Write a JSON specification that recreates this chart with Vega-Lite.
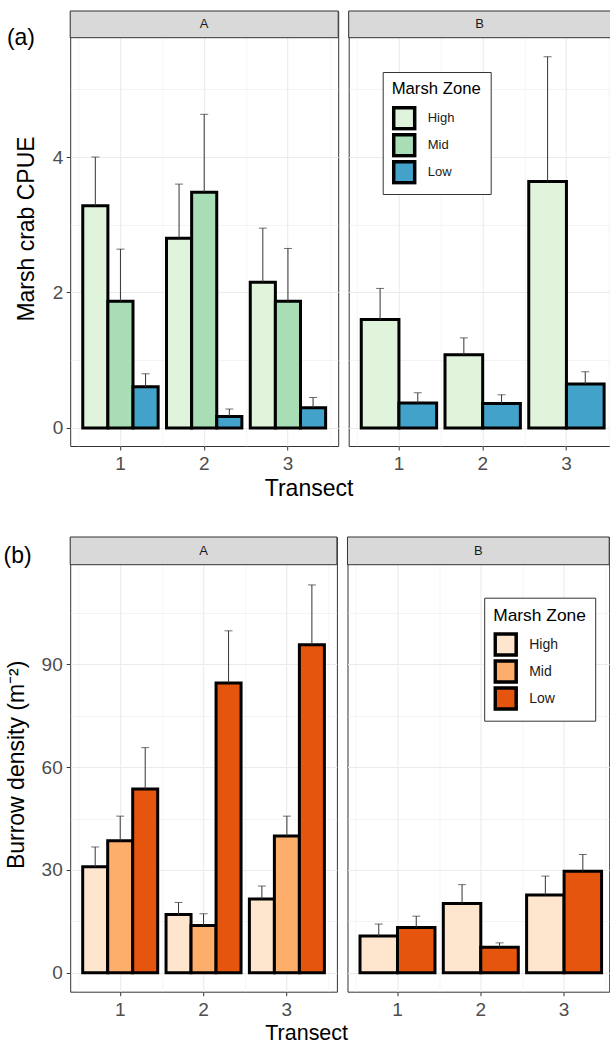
{
  "$schema": "https://vega.github.io/schema/vega-lite/v6.json",
  "background": "white",
  "padding": {"left": 2.2, "top": 10, "right": 0, "bottom": 0},
  "spacing": 34,
  "resolve": {"scale": {"color": "independent", "xOffset": "independent", "x": "independent", "y": "independent"}, "legend": {"color": "independent"}},
  "config": {
    "font": "Liberation Sans",
    "view": {"stroke": "#333333", "strokeWidth": 1},
    "axis": {"labelFont": "Liberation Sans", "titleFont": "Liberation Sans", "gridColor": "#EBEBEB", "tickColor": "#333333", "domain": false, "labelColor": "#4D4D4D", "labelFontSize": 19, "tickSize": 4, "titleColor": "black", "titleFontWeight": "normal", "titleFontSize": 23},
    "legend": {"labelFont": "Liberation Sans", "titleFont": "Liberation Sans", "fillColor": "white", "strokeColor": "#333333", "padding": 9, "titleFontWeight": "normal", "titleColor": "black", "labelColor": "#1A1A1A", "rowPadding": 2, "clipHeight": 25, "labelOffset": 11, "titlePadding": 8, "symbolType": "square", "symbolSize": 441, "symbolStrokeWidth": 3.5, "symbolStrokeColor": "black", "symbolOpacity": 1},
    "title": {"font": "Liberation Sans"}
  },
  "datasets": {
    "crab": [
      {"site": "A", "transect": "1", "zone": "High", "mean": 3.28, "upper": 4.0},
      {"site": "A", "transect": "1", "zone": "Mid", "mean": 1.87, "upper": 2.64},
      {"site": "A", "transect": "1", "zone": "Low", "mean": 0.61, "upper": 0.8},
      {"site": "A", "transect": "2", "zone": "High", "mean": 2.8, "upper": 3.6},
      {"site": "A", "transect": "2", "zone": "Mid", "mean": 3.48, "upper": 4.63},
      {"site": "A", "transect": "2", "zone": "Low", "mean": 0.17, "upper": 0.28},
      {"site": "A", "transect": "3", "zone": "High", "mean": 2.15, "upper": 2.95},
      {"site": "A", "transect": "3", "zone": "Mid", "mean": 1.87, "upper": 2.65},
      {"site": "A", "transect": "3", "zone": "Low", "mean": 0.3, "upper": 0.45},
      {"site": "B", "transect": "1", "zone": "High", "mean": 1.6, "upper": 2.06},
      {"site": "B", "transect": "1", "zone": "Low", "mean": 0.37, "upper": 0.52},
      {"site": "B", "transect": "2", "zone": "High", "mean": 1.08, "upper": 1.33},
      {"site": "B", "transect": "2", "zone": "Low", "mean": 0.36, "upper": 0.49},
      {"site": "B", "transect": "3", "zone": "High", "mean": 3.64, "upper": 5.48},
      {"site": "B", "transect": "3", "zone": "Low", "mean": 0.65, "upper": 0.83}
    ],
    "burrow": [
      {"site": "A", "transect": "1", "zone": "High", "mean": 30.9, "upper": 36.7},
      {"site": "A", "transect": "1", "zone": "Mid", "mean": 38.5, "upper": 45.7},
      {"site": "A", "transect": "1", "zone": "Low", "mean": 53.6, "upper": 65.7},
      {"site": "A", "transect": "2", "zone": "High", "mean": 17.0, "upper": 20.5},
      {"site": "A", "transect": "2", "zone": "Mid", "mean": 13.8, "upper": 17.2},
      {"site": "A", "transect": "2", "zone": "Low", "mean": 84.6, "upper": 99.8},
      {"site": "A", "transect": "3", "zone": "High", "mean": 21.5, "upper": 25.3},
      {"site": "A", "transect": "3", "zone": "Mid", "mean": 39.9, "upper": 45.7},
      {"site": "A", "transect": "3", "zone": "Low", "mean": 95.7, "upper": 113.2},
      {"site": "B", "transect": "1", "zone": "High", "mean": 10.7, "upper": 14.2},
      {"site": "B", "transect": "1", "zone": "Low", "mean": 13.2, "upper": 16.5},
      {"site": "B", "transect": "2", "zone": "High", "mean": 20.2, "upper": 25.7},
      {"site": "B", "transect": "2", "zone": "Low", "mean": 7.4, "upper": 8.7},
      {"site": "B", "transect": "3", "zone": "High", "mean": 22.7, "upper": 28.2},
      {"site": "B", "transect": "3", "zone": "Low", "mean": 29.6, "upper": 34.5}
    ]
  },
  "vconcat": [
    {
      "spacing": 8.5,
      "title": {"text": "Transect", "orient": "bottom", "anchor": "middle", "fontSize": 23, "fontWeight": "normal", "color": "black", "offset": 4},
      "resolve": {"scale": {"color": "independent", "xOffset": "independent", "x": "independent", "y": "independent"}, "legend": {"color": "independent"}},
      "hconcat": [
        {
          "width": 268, "height": 435,
          "title": {"text": "(a)", "anchor": "start", "frame": "group", "fontSize": 23, "fontWeight": "normal", "color": "black", "baseline": "alphabetic", "offset": -57.5, "dx": -63.3},
          "data": {"name": "crab"},
          "transform": [{"filter": "datum.site === 'A'"}],
          "resolve": {"axis": {"x": "independent", "y": "independent"}},
          "layer": [
            {"mark": {"type": "bar", "stroke": "black", "strokeWidth": 3},
             "encoding": {
               "x": {"field": "transect", "type": "ordinal", "scale": {"paddingInner": 0, "paddingOuter": 0.1}, "axis": {"title": null, "grid": true, "gridWidth": 1.1, "labelAngle": 0, "labelPadding": 4.6}},
               "xOffset": {"field": "zone", "scale": {"domain": ["High", "Mid", "Low"], "paddingInner": 0, "paddingOuter": 0.1667}},
               "y": {"field": "mean", "type": "quantitative", "scale": {"domain": [-0.266, 6.155], "nice": false, "zero": false},
                 "axis": {"title": "Marsh crab CPUE", "format": "d", "values": [0, 1, 2, 3, 4, 5], "labelExpr": "datum.value % 2 === 0 ? datum.label : ''", "tickOpacity": {"condition": {"test": "datum.value % 2 === 0", "value": 1}, "value": 0}, "gridWidth": {"condition": {"test": "datum.value % 2 === 0", "value": 1.1}, "value": 0.55}, "labelPadding": 3.5, "titlePadding": 13.8}},
               "y2": {"datum": 0},
               "color": {"field": "zone", "type": "nominal", "scale": {"domain": ["High", "Mid", "Low"], "range": ["#E0F3DB", "#A8DDB5", "#43A2CA"]}, "legend": null}
             }},
            {"mark": {"type": "rule", "color": "#333333", "strokeWidth": 1},
             "encoding": {
               "x": {"field": "transect", "type": "ordinal", "axis": null},
               "xOffset": {"field": "zone", "scale": {"domain": ["High", "Mid", "Low"], "paddingInner": 0, "paddingOuter": 0.1667}},
               "y": {"field": "mean", "type": "quantitative", "axis": null},
               "y2": {"field": "upper"}
             }},
            {"mark": {"type": "tick", "color": "#333333", "thickness": 1, "size": 8},
             "encoding": {
               "x": {"field": "transect", "type": "ordinal", "axis": {"orient": "top", "tickBand": "extent", "grid": true, "gridWidth": 0.55, "labels": false, "ticks": false, "domain": false, "title": null}},
               "xOffset": {"field": "zone", "scale": {"domain": ["High", "Mid", "Low"], "paddingInner": 0, "paddingOuter": 0.1667}},
               "y": {"field": "upper", "type": "quantitative", "axis": null}
             }},
            {"data": {"values": [{"site": "A"}]},
             "mark": {"type": "rect", "fill": "#D9D9D9", "stroke": "#333333", "strokeWidth": 1},
             "encoding": {"y": {"datum": 5.761, "type": "quantitative", "axis": null}, "y2": {"datum": 6.155}}},
            {"data": {"values": [{"site": "A"}]},
             "mark": {"type": "text", "fontSize": 13, "color": "#1A1A1A", "baseline": "middle"},
             "encoding": {"text": {"field": "site"}, "y": {"datum": 5.958, "type": "quantitative", "axis": null}}}
          ]
        },
        {
          "width": 262, "height": 435,
          "data": {"name": "crab"},
          "transform": [{"filter": "datum.site === 'B'"}],
          "resolve": {"axis": {"x": "independent", "y": "independent"}},
          "layer": [
            {"mark": {"type": "bar", "stroke": "black", "strokeWidth": 3},
             "encoding": {
               "x": {"field": "transect", "type": "ordinal", "scale": {"paddingInner": 0, "paddingOuter": 0.0642, "align": 0.779}, "axis": {"title": null, "grid": true, "gridWidth": 1.1, "labelAngle": 0, "labelPadding": 4.6}},
               "xOffset": {"field": "zone", "scale": {"domain": ["High", "Low"], "paddingInner": 0, "paddingOuter": 0.1111}},
               "y": {"field": "mean", "type": "quantitative", "scale": {"domain": [-0.266, 6.155], "nice": false, "zero": false},
                 "axis": {"title": null, "values": [0, 1, 2, 3, 4, 5], "labels": false, "ticks": false, "gridWidth": {"condition": {"test": "datum.value % 2 === 0", "value": 1.1}, "value": 0.55}}},
               "y2": {"datum": 0},
               "color": {"field": "zone", "type": "nominal", "scale": {"domain": ["High", "Mid", "Low"], "range": ["#E0F3DB", "#A8DDB5", "#43A2CA"]}, "legend": {"title": "Marsh Zone", "orient": "none", "legendX": 34, "legendY": 61, "titleFontSize": 16.7, "labelFontSize": 13}}
             }},
            {"mark": {"type": "rule", "color": "#333333", "strokeWidth": 1},
             "encoding": {
               "x": {"field": "transect", "type": "ordinal", "axis": null},
               "xOffset": {"field": "zone", "scale": {"domain": ["High", "Low"], "paddingInner": 0, "paddingOuter": 0.1111}},
               "y": {"field": "mean", "type": "quantitative", "axis": null},
               "y2": {"field": "upper"}
             }},
            {"mark": {"type": "tick", "color": "#333333", "thickness": 1, "size": 8},
             "encoding": {
               "x": {"field": "transect", "type": "ordinal", "axis": {"orient": "top", "tickBand": "extent", "grid": true, "gridWidth": 0.55, "labels": false, "ticks": false, "domain": false, "title": null}},
               "xOffset": {"field": "zone", "scale": {"domain": ["High", "Low"], "paddingInner": 0, "paddingOuter": 0.1111}},
               "y": {"field": "upper", "type": "quantitative", "axis": null}
             }},
            {"data": {"values": [{"site": "B"}]},
             "mark": {"type": "rect", "fill": "#D9D9D9", "stroke": "#333333", "strokeWidth": 1},
             "encoding": {"y": {"datum": 5.761, "type": "quantitative", "axis": null}, "y2": {"datum": 6.155}}},
            {"data": {"values": [{"site": "B"}]},
             "mark": {"type": "text", "fontSize": 13, "color": "#1A1A1A", "baseline": "middle"},
             "encoding": {"text": {"field": "site"}, "y": {"datum": 5.958, "type": "quantitative", "axis": null}}}
          ]
        }
      ]
    },
    {
      "spacing": 8.3,
      "title": {"text": "Transect", "orient": "bottom", "anchor": "middle", "fontSize": 21.5, "fontWeight": "normal", "color": "black", "offset": 2.5},
      "resolve": {"scale": {"color": "independent", "xOffset": "independent", "x": "independent", "y": "independent"}, "legend": {"color": "independent"}},
      "hconcat": [
        {
          "width": 266.7, "height": 454.7,
          "title": {"text": "(b)", "anchor": "start", "frame": "group", "fontSize": 23, "fontWeight": "normal", "color": "black", "baseline": "alphabetic", "offset": -49.5, "dx": -66.6},
          "data": {"name": "burrow"},
          "transform": [{"filter": "datum.site === 'A'"}],
          "resolve": {"axis": {"x": "independent", "y": "independent"}},
          "layer": [
            {"mark": {"type": "bar", "stroke": "black", "strokeWidth": 3},
             "encoding": {
               "x": {"field": "transect", "type": "ordinal", "scale": {"paddingInner": 0, "paddingOuter": 0.1}, "axis": {"title": null, "grid": true, "gridWidth": 1.1, "labelAngle": 0, "labelPadding": 5}},
               "xOffset": {"field": "zone", "scale": {"domain": ["High", "Mid", "Low"], "paddingInner": 0, "paddingOuter": 0.1667}},
               "y": {"field": "mean", "type": "quantitative", "scale": {"domain": [-5.55, 127.19], "nice": false, "zero": false},
                 "axis": {"title": "Burrow density (m⁻²)", "format": "d", "values": [0, 15, 30, 45, 60, 75, 90, 105], "labelExpr": "datum.value % 30 === 0 ? datum.label : ''", "tickOpacity": {"condition": {"test": "datum.value % 30 === 0", "value": 1}, "value": 0}, "gridWidth": {"condition": {"test": "datum.value % 30 === 0", "value": 1.1}, "value": 0.55}, "labelPadding": 4, "titlePadding": 12.7}},
               "y2": {"datum": 0},
               "color": {"field": "zone", "type": "nominal", "scale": {"domain": ["High", "Mid", "Low"], "range": ["#FEE6CE", "#FDAE6B", "#E6550D"]}, "legend": null}
             }},
            {"mark": {"type": "rule", "color": "#333333", "strokeWidth": 1},
             "encoding": {
               "x": {"field": "transect", "type": "ordinal", "axis": null},
               "xOffset": {"field": "zone", "scale": {"domain": ["High", "Mid", "Low"], "paddingInner": 0, "paddingOuter": 0.1667}},
               "y": {"field": "mean", "type": "quantitative", "axis": null},
               "y2": {"field": "upper"}
             }},
            {"mark": {"type": "tick", "color": "#333333", "thickness": 1, "size": 8},
             "encoding": {
               "x": {"field": "transect", "type": "ordinal", "axis": {"orient": "top", "tickBand": "extent", "grid": true, "gridWidth": 0.55, "labels": false, "ticks": false, "domain": false, "title": null}},
               "xOffset": {"field": "zone", "scale": {"domain": ["High", "Mid", "Low"], "paddingInner": 0, "paddingOuter": 0.1667}},
               "y": {"field": "upper", "type": "quantitative", "axis": null}
             }},
            {"data": {"values": [{"site": "A"}]},
             "mark": {"type": "rect", "fill": "#D9D9D9", "stroke": "#333333", "strokeWidth": 1},
             "encoding": {"y": {"datum": 119.1, "type": "quantitative", "axis": null}, "y2": {"datum": 127.19}}},
            {"data": {"values": [{"site": "A"}]},
             "mark": {"type": "text", "fontSize": 13, "color": "#1A1A1A", "baseline": "middle"},
             "encoding": {"text": {"field": "site"}, "y": {"datum": 123.15, "type": "quantitative", "axis": null}}}
          ]
        },
        {
          "width": 261.7, "height": 454.7,
          "data": {"name": "burrow"},
          "transform": [{"filter": "datum.site === 'B'"}],
          "resolve": {"axis": {"x": "independent", "y": "independent"}},
          "layer": [
            {"mark": {"type": "bar", "stroke": "black", "strokeWidth": 3},
             "encoding": {
               "x": {"field": "transect", "type": "ordinal", "scale": {"paddingInner": 0, "paddingOuter": 0.0708, "align": 0.708}, "axis": {"title": null, "grid": true, "gridWidth": 1.1, "labelAngle": 0, "labelPadding": 5}},
               "xOffset": {"field": "zone", "scale": {"domain": ["High", "Low"], "paddingInner": 0, "paddingOuter": 0.1111}},
               "y": {"field": "mean", "type": "quantitative", "scale": {"domain": [-5.55, 127.19], "nice": false, "zero": false},
                 "axis": {"title": null, "values": [0, 15, 30, 45, 60, 75, 90, 105], "labels": false, "ticks": false, "gridWidth": {"condition": {"test": "datum.value % 30 === 0", "value": 1.1}, "value": 0.55}}},
               "y2": {"datum": 0},
               "color": {"field": "zone", "type": "nominal", "scale": {"domain": ["High", "Mid", "Low"], "range": ["#FEE6CE", "#FDAE6B", "#E6550D"]}, "legend": {"title": "Marsh Zone", "orient": "none", "legendX": 136.7, "legendY": 60.7, "titleFontSize": 17.4, "labelFontSize": 14}}
             }},
            {"mark": {"type": "rule", "color": "#333333", "strokeWidth": 1},
             "encoding": {
               "x": {"field": "transect", "type": "ordinal", "axis": null},
               "xOffset": {"field": "zone", "scale": {"domain": ["High", "Low"], "paddingInner": 0, "paddingOuter": 0.1111}},
               "y": {"field": "mean", "type": "quantitative", "axis": null},
               "y2": {"field": "upper"}
             }},
            {"mark": {"type": "tick", "color": "#333333", "thickness": 1, "size": 8},
             "encoding": {
               "x": {"field": "transect", "type": "ordinal", "axis": {"orient": "top", "tickBand": "extent", "grid": true, "gridWidth": 0.55, "labels": false, "ticks": false, "domain": false, "title": null}},
               "xOffset": {"field": "zone", "scale": {"domain": ["High", "Low"], "paddingInner": 0, "paddingOuter": 0.1111}},
               "y": {"field": "upper", "type": "quantitative", "axis": null}
             }},
            {"data": {"values": [{"site": "B"}]},
             "mark": {"type": "rect", "fill": "#D9D9D9", "stroke": "#333333", "strokeWidth": 1},
             "encoding": {"y": {"datum": 119.1, "type": "quantitative", "axis": null}, "y2": {"datum": 127.19}}},
            {"data": {"values": [{"site": "B"}]},
             "mark": {"type": "text", "fontSize": 13, "color": "#1A1A1A", "baseline": "middle"},
             "encoding": {"text": {"field": "site"}, "y": {"datum": 123.15, "type": "quantitative", "axis": null}}}
          ]
        }
      ]
    }
  ]
}
